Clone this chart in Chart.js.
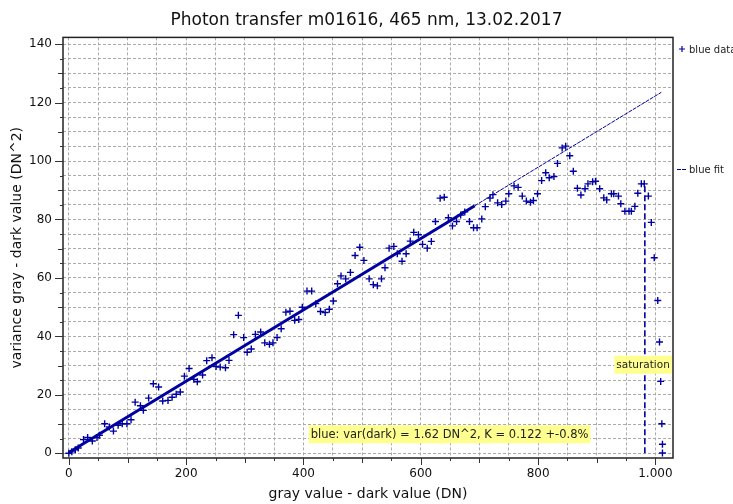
<!DOCTYPE html>
<html>
<head>
<meta charset="utf-8">
<script src="https://cdn.jsdelivr.net/npm/chart.js@4/dist/chart.umd.min.js"></script>
<style>
  html, body { margin: 0; padding: 0; background: #fff; }
  #wrap { width: 733px; height: 504px; }
</style>
</head>
<body>
<div id="wrap"><canvas id="myChart" width="733" height="504"></canvas></div>
<script>
// measured points (gray - dark, variance)
var grayValues = [0, 5, 11, 16, 25, 32, 40, 48, 52, 61, 69, 76, 84, 91, 99, 106, 113, 122, 127, 136,
  144, 153, 160, 169, 176, 183, 190, 197, 205, 213, 219, 228, 235, 244, 251, 258, 267, 273, 281, 289,
  298, 304, 311, 318, 327, 334, 342, 348, 355, 362, 370, 377, 385, 392, 398, 406, 414, 421, 429, 437,
  444, 451, 458, 464, 472, 480, 488, 496, 503, 512, 519, 526, 533, 539, 546, 554, 560, 568, 575, 582,
  588, 596, 603, 611, 618, 625, 633, 640, 647, 654, 661, 668, 675, 683, 690, 696, 704, 710, 718, 723,
  731, 738, 745, 750, 759, 766, 773, 780, 787, 792, 799, 806, 813, 819, 827, 833, 841, 847, 854, 860,
  867, 873, 880, 885, 893, 898, 905, 912, 917, 925, 929, 937, 941, 948, 955, 959, 965, 970, 976, 981,
  988, 993, 998, 1004, 1007, 1009, 1011, 1012, 1012];
var varianceValues = [0, 0.5, 1.2, 1.8, 4.7, 5.4, 4.2, 5.4, 6.2, 10.1, 9.0, 7.6, 9.6, 10.1, 10.1, 11.5, 17.5, 16.3, 14.7, 18.9,
  23.8, 22.7, 17.9, 18.1, 19.2, 20.2, 21.0, 26.4, 29.0, 25.3, 24.5, 26.8, 31.7, 32.7, 29.7, 29.5, 29.3, 31.8, 40.6, 47.2,
  39.6, 34.6, 35.7, 40.7, 41.5, 37.8, 37.3, 37.8, 39.6, 42.6, 48.3, 48.6, 45.5, 45.8, 50.0, 55.5, 55.5, 51.2, 48.5, 48.2,
  49.3, 52.1, 58.0, 60.7, 59.7, 61.9, 67.7, 70.5, 66.0, 59.7, 57.7, 57.3, 59.7, 63.5, 70.2, 70.8, 68.3, 65.7, 68.3, 72.6,
  75.6, 74.8, 71.5, 70.2, 72.5, 79.3, 87.3, 87.6, 80.6, 77.8, 79.3, 81.5, 82.6, 79.3, 77.2, 77.2, 80.2, 84.4, 87.3, 88.5,
  85.7, 85.1, 86.3, 88.8, 91.5, 91.0, 88.0, 86.3, 85.9, 86.5, 88.8, 93.3, 96.0, 94.3, 94.7, 99.2, 104.5, 105.1, 101.8, 96.5,
  90.7, 88.4, 90.5, 92.2, 92.9, 93.1, 90.5, 87.4, 86.7, 88.8, 88.8, 88.0, 85.4, 82.8, 82.8, 82.8, 84.5, 89.0, 92.2, 92.2,
  88.0, 79.0, 66.9, 52.3, 38.1, 24.6, 10.1, 3.1, 0.1];

// fit line: thick part up to the fit limit, thin part beyond
var fitX = [0, 692, 1010];
var fitY = [0.3, 84.7, 123.5];

// saturation marker
var saturationX = 982;
var saturationY = [0, 91.5];

var xTickValues = [0, 200, 400, 600, 800, 1000];
var xTickLabels = ['0', '200', '400', '600', '800', '1.000'];
var yTickValues = [0, 20, 40, 60, 80, 100, 120, 140];
var yTickLabels = ['0', '20', '40', '60', '80', '100', '120', '140'];

var fitText = 'blue: var(dark) = 1.62 DN^2, K = 0.122 +-0.8%';
var satText = 'saturation';

var blue = '#0000a0';
var fontFamily = '"DejaVu Sans", Verdana, sans-serif';

var dataPoints = grayValues.map(function(v, i) { return {x: v, y: varianceValues[i]}; });

// frame, tick marks, notes and the legend on the right
var extras = {
    id: 'extras',
    afterDraw: function(chart) {
        var ctx = chart.ctx, a = chart.chartArea, xs = chart.scales.x, ys = chart.scales.y;
        ctx.save();

        // notes (yellow boxes)
        ctx.save();
        ctx.beginPath();
        ctx.rect(a.left, a.top, a.width, a.height);
        ctx.clip();
        ctx.font = '11.5px ' + fontFamily;
        ctx.textBaseline = 'middle';
        var fx = xs.getPixelForValue(409), fy = ys.getPixelForValue(6.5);
        var fw = ctx.measureText(fitText).width;
        ctx.fillStyle = '#ffff90';
        ctx.fillRect(fx, fy - 9, fw + 4, 18);
        ctx.fillStyle = '#222';
        ctx.textAlign = 'left';
        ctx.fillText(fitText, fx + 2, fy + 1);

        ctx.font = '10.5px ' + fontFamily;
        var sx = xs.getPixelForValue(979), sy = ys.getPixelForValue(30.3);
        var sw = ctx.measureText(satText).width;
        ctx.fillStyle = '#ffff90';
        ctx.fillRect(sx - sw / 2 - 2, sy - 9, sw + 4, 18);
        ctx.fillStyle = '#222';
        ctx.textAlign = 'center';
        ctx.fillText(satText, sx, sy + 1);
        ctx.restore();

        // frame
        ctx.strokeStyle = '#222';
        ctx.lineWidth = 1.5;
        ctx.strokeRect(a.left, a.top, a.width, a.height);

        // tick marks
        ctx.lineWidth = 1;
        ctx.strokeStyle = '#333';
        xs.ticks.forEach(function(t) {
            var px = Math.round(xs.getPixelForValue(t.value)) + 0.5;
            var len = t.value % 200 === 0 ? 7 : (t.value % 100 === 0 ? 5 : 3);
            ctx.beginPath();
            ctx.moveTo(px, a.bottom);
            ctx.lineTo(px, a.bottom + len);
            ctx.stroke();
        });
        ys.ticks.forEach(function(t) {
            var py = Math.round(ys.getPixelForValue(t.value)) + 0.5;
            var len = t.value % 20 === 0 ? 8 : (t.value % 10 === 0 ? 5 : 3);
            ctx.beginPath();
            ctx.moveTo(a.left, py);
            ctx.lineTo(a.left - len, py);
            ctx.stroke();
        });

        // legend
        ctx.font = '10px ' + fontFamily;
        ctx.textAlign = 'left';
        ctx.textBaseline = 'middle';
        ctx.fillStyle = '#222';
        var lx = a.right;
        ctx.strokeStyle = blue;
        ctx.lineWidth = 1.2;
        ctx.beginPath();
        ctx.moveTo(lx + 6, 49); ctx.lineTo(lx + 12, 49);
        ctx.moveTo(lx + 9, 46); ctx.lineTo(lx + 9, 52);
        ctx.stroke();
        ctx.fillText(chart.data.datasets[0].label, lx + 16, 50);
        ctx.setLineDash([4, 1]);
        ctx.lineWidth = 1;
        ctx.beginPath();
        ctx.moveTo(lx + 4, 169.5); ctx.lineTo(lx + 13, 169.5);
        ctx.stroke();
        ctx.setLineDash([]);
        ctx.fillText(chart.data.datasets[1].label, lx + 16, 170);

        ctx.restore();
    }
};

var ctx = document.getElementById('myChart').getContext('2d');

var myChart = new Chart(ctx, {
    type: 'scatter',
    data: {
        datasets: [{
            label: 'blue data',
            data: dataPoints,
            pointStyle: 'cross',
            pointRadius: 3.5,
            borderWidth: 1.4,
            borderColor: blue,
            backgroundColor: blue,
            order: 1
        }, {
            label: 'blue fit',
            data: [{x: fitX[0], y: fitY[0]}, {x: fitX[1], y: fitY[1]}],
            showLine: true,
            borderColor: blue,
            borderWidth: 3,
            pointRadius: 0,
            order: 2
        }, {
            label: 'blue fit extension',
            data: [{x: fitX[1], y: fitY[1]}, {x: fitX[2], y: fitY[2]}],
            showLine: true,
            borderColor: blue,
            borderWidth: 1,
            borderDash: [4, 1],
            pointRadius: 0,
            order: 2
        }, {
            label: 'saturation',
            data: [{x: saturationX, y: saturationY[0]}, {x: saturationX, y: saturationY[1]}],
            showLine: true,
            borderColor: blue,
            borderWidth: 1.6,
            borderDash: [6, 3],
            pointRadius: 0,
            order: 3
        }]
    },
    options: {
        responsive: false,
        animation: false,
        layout: { padding: 0 },
        plugins: {
            legend: { display: false },
            tooltip: { enabled: false },
            title: {
                display: true,
                text: 'Photon transfer m01616, 465 nm, 13.02.2017',
                color: '#111',
                font: { family: fontFamily, size: 17, weight: 'normal' },
                padding: { top: 10, bottom: 7 }
            }
        },
        scales: {
            x: {
                type: 'linear',
                min: -10,
                max: 1030,
                afterFit: function(s) { s.height = 46; },
                border: { display: false, dash: [3, 2] },
                grid: { color: '#ababab', drawTicks: false },
                ticks: {
                    stepSize: 50,
                    includeBounds: false,
                    autoSkip: false,
                    maxRotation: 0,
                    padding: 9,
                    color: '#111',
                    font: { family: fontFamily, size: 12 },
                    callback: function(value) {
                        var i = xTickValues.indexOf(value);
                        return i >= 0 ? xTickLabels[i] : '';
                    }
                },
                title: {
                    display: true,
                    text: 'gray value - dark value (DN)',
                    color: '#111',
                    font: { family: fontFamily, size: 14 },
                    padding: { top: 0, bottom: 1 }
                }
            },
            y: {
                type: 'linear',
                min: -1.6,
                max: 142.3,
                afterFit: function(s) { s.width = 63; },
                border: { display: false, dash: [3, 2] },
                grid: { color: '#ababab', drawTicks: false },
                ticks: {
                    stepSize: 5,
                    includeBounds: false,
                    autoSkip: false,
                    padding: 11,
                    color: '#111',
                    font: { family: fontFamily, size: 12 },
                    callback: function(value) {
                        var i = yTickValues.indexOf(value);
                        return i >= 0 ? yTickLabels[i] : '';
                    }
                },
                title: {
                    display: true,
                    text: 'variance gray - dark value (DN^2)',
                    color: '#111',
                    font: { family: fontFamily, size: 14 },
                    padding: { top: 9, bottom: 0 }
                }
            },
            // empty strip on the right that holds the legend
            side: {
                type: 'linear',
                position: 'right',
                display: true,
                afterFit: function(s) { s.width = 60; },
                grid: { display: false, drawTicks: false },
                border: { display: false },
                ticks: { display: false }
            }
        }
    },
    plugins: [extras]
});
</script>
</body>
</html>
